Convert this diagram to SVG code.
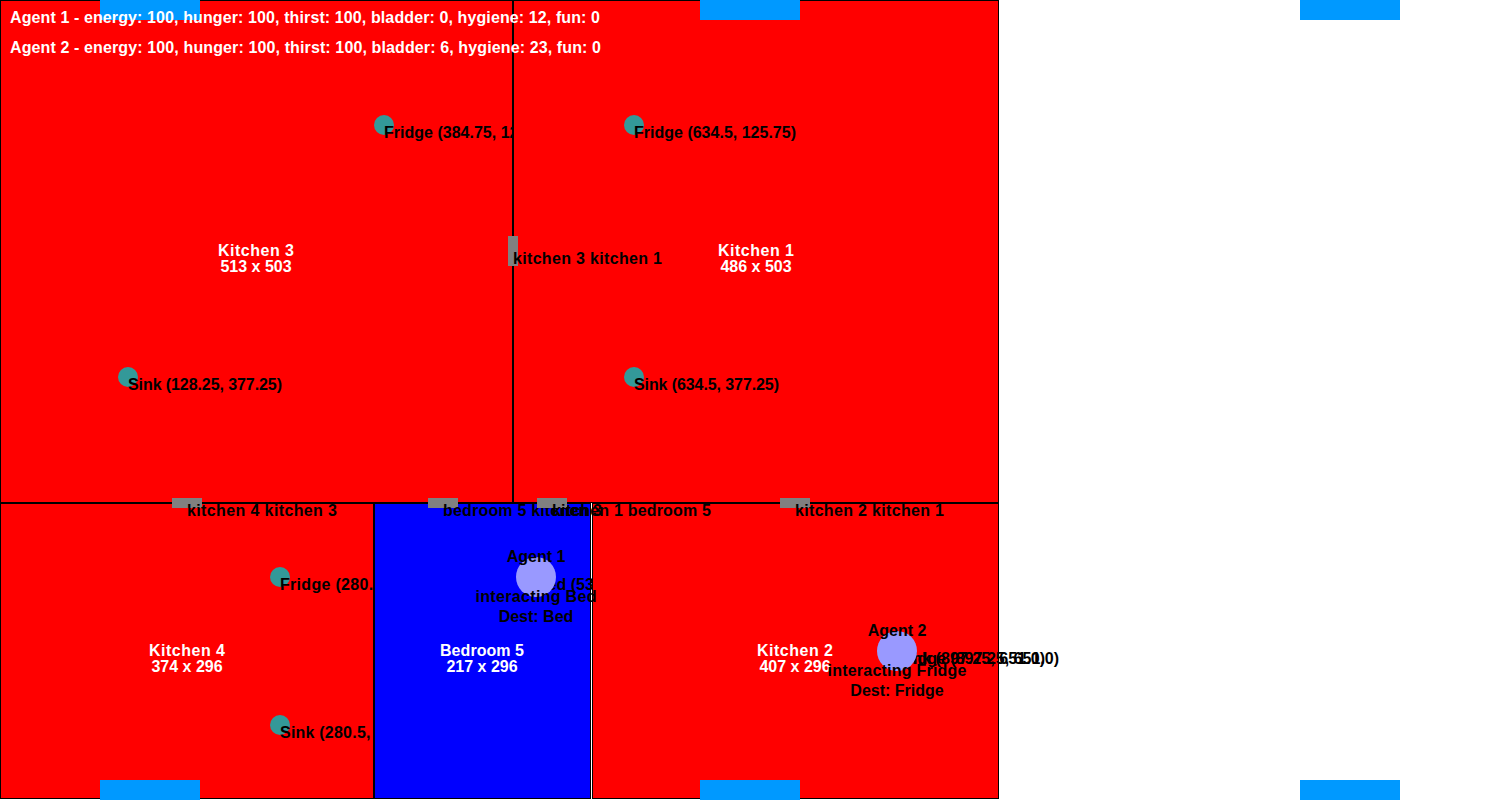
<svg xmlns="http://www.w3.org/2000/svg" width="1500" height="800" viewBox="0 0 1500 800">
<style>
text{font-family:"Liberation Sans",Arial,sans-serif;font-size:16px;font-weight:bold;fill:#000}
.room{stroke:#000;stroke-width:1}
.k{fill:#f00}
.b{fill:#00f}
.w{fill:#fff}
.c{text-anchor:middle}
.item{fill:#339999}
.door{fill:#808080}
.bar{fill:#0099ff}
.agent{fill:#9999ff}
</style>
<rect width="1500" height="800" fill="#fff"/>
<g id="kitchen-3"><rect class="room k" x="0.5" y="0.5" width="512" height="502"/>
<circle class="item" cx="384" cy="125" r="10"/><text x="384" y="138" textLength="171">Fridge (384.75, 125.75)</text>
<circle class="item" cx="128" cy="377" r="10"/><text x="128" y="390" textLength="154">Sink (128.25, 377.25)</text>
</g>
<g id="kitchen-1"><rect class="room k" x="513.5" y="0.5" width="485" height="502"/>
<circle class="item" cx="634" cy="125" r="10"/><text x="634" y="138" textLength="162">Fridge (634.5, 125.75)</text>
<circle class="item" cx="634" cy="377" r="10"/><text x="634" y="390" textLength="145">Sink (634.5, 377.25)</text>
</g>
<g id="kitchen-4"><rect class="room k" x="0.5" y="503.5" width="373" height="295"/>
<circle class="item" cx="280" cy="577" r="10"/><text x="280" y="590" textLength="145">Fridge (280.5, 577)</text>
<circle class="item" cx="280" cy="725" r="10"/><text x="280" y="738" textLength="128">Sink (280.5, 725)</text>
</g>
<g id="bedroom-5"><rect class="room b" x="374.5" y="503.5" width="216" height="295"/>
<text x="536" y="590">Bed (536.75, 577)</text>
</g>
<g id="kitchen-2"><rect class="room k" x="592.5" y="503.5" width="406" height="295"/>
<text x="897" y="664" textLength="162">Fridge (897.25, 651.0)</text>
<text x="897" y="664" textLength="148">Sink (897.25, 651.0)</text>
</g>
<g id="labels">
<text class="w c" x="256" y="256" textLength="76">Kitchen 3</text><text class="w c" x="256" y="272">513 x 503</text>
<text class="w c" x="756" y="256" textLength="76">Kitchen 1</text><text class="w c" x="756" y="272">486 x 503</text>
<text class="w c" x="187" y="656" textLength="76">Kitchen 4</text><text class="w c" x="187" y="672">374 x 296</text>
<text class="w c" x="482" y="656" textLength="84">Bedroom 5</text><text class="w c" x="482" y="672">217 x 296</text>
<text class="w c" x="795" y="656" textLength="76">Kitchen 2</text><text class="w c" x="795" y="672">407 x 296</text>
</g>
<g id="connectors">
<rect class="door" x="508" y="236" width="10" height="30"/><text x="513" y="264" textLength="149">kitchen 3 kitchen 1</text>
<rect class="door" x="172" y="498" width="30" height="10"/><text x="187" y="516" textLength="150">kitchen 4 kitchen 3</text>
<rect class="door" x="428" y="498" width="30" height="10"/><text x="443" y="516" textLength="159">bedroom 5 kitchen 3</text>
<rect class="door" x="537" y="498" width="30" height="10"/><text x="552" y="516" textLength="159">kitchen 1 bedroom 5</text>
<rect class="door" x="780" y="498" width="30" height="10"/><text x="795" y="516" textLength="149">kitchen 2 kitchen 1</text>
</g>
<g id="windows">
<rect class="bar" x="100" y="0" width="100" height="20"/>
<rect class="bar" x="700" y="0" width="100" height="20"/>
<rect class="bar" x="1300" y="0" width="100" height="20"/>
<rect class="bar" x="100" y="780" width="100" height="20"/>
<rect class="bar" x="700" y="780" width="100" height="20"/>
<rect class="bar" x="1300" y="780" width="100" height="20"/>
</g>
<g id="agent-1"><circle class="agent" cx="536" cy="577" r="20"/>
<text class="c" x="536" y="562">Agent 1</text><text class="c" x="536" y="602" textLength="121">interacting Bed</text><text class="c" x="536" y="622">Dest: Bed</text></g>
<g id="agent-2"><circle class="agent" cx="897" cy="651" r="20"/>
<text class="c" x="897" y="636">Agent 2</text><text class="c" x="897" y="676" textLength="139">interacting Fridge</text><text class="c" x="897" y="696">Dest: Fridge</text></g>
<g id="status">
<text class="w" x="10" y="23" textLength="590">Agent 1 - energy: 100, hunger: 100, thirst: 100, bladder: 0, hygiene: 12, fun: 0</text>
<text class="w" x="10" y="53" textLength="591">Agent 2 - energy: 100, hunger: 100, thirst: 100, bladder: 6, hygiene: 23, fun: 0</text>
</g>
</svg>
